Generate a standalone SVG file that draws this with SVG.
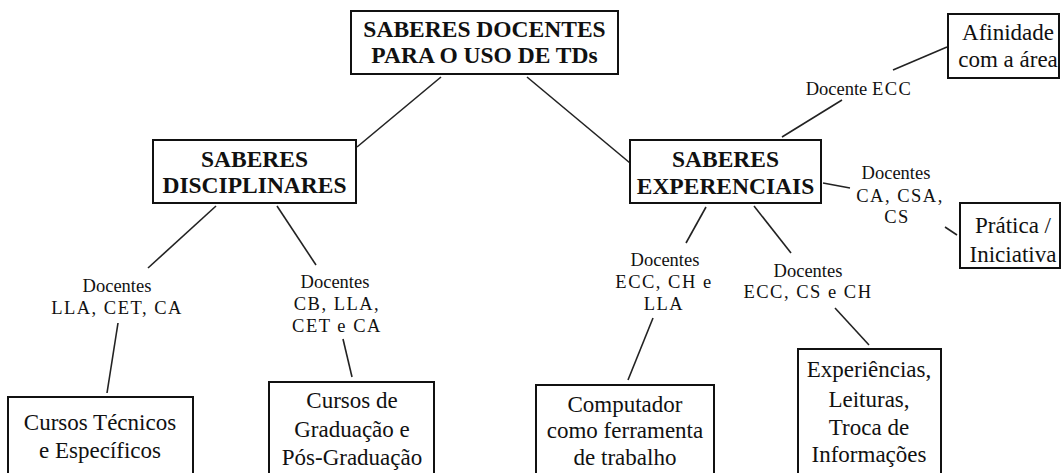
<svg xmlns="http://www.w3.org/2000/svg" width="1061" height="473" viewBox="0 0 1061 473">
<style>
.box{fill:#fff;stroke:#111;stroke-width:2}
.t{font-weight:bold;font-size:23.5px;fill:#111;text-anchor:middle}
.b{font-size:23px;fill:#111;text-anchor:middle}
.l{font-size:18.5px;fill:#111;text-anchor:middle}
.c{letter-spacing:1.5px}
.e{stroke:#222;stroke-width:1.6;fill:none}
</style>
<rect width="1061" height="473" fill="#fff"/>
<g id="connectors">
<line class="e" x1="441" y1="77" x2="357" y2="147"/>
<line class="e" x1="527" y1="77" x2="630" y2="163"/>
<line class="e" x1="216" y1="206" x2="148" y2="268"/>
<line class="e" x1="277" y1="206" x2="316" y2="265"/>
<line class="e" x1="118" y1="323" x2="107" y2="393"/>
<line class="e" x1="343" y1="339" x2="352" y2="377"/>
<line class="e" x1="706" y1="207" x2="686" y2="243"/>
<line class="e" x1="754" y1="206" x2="791" y2="253"/>
<line class="e" x1="653" y1="318" x2="628" y2="380"/>
<line class="e" x1="835" y1="308" x2="869" y2="345"/>
<line class="e" x1="823" y1="183" x2="850" y2="188"/>
<line class="e" x1="945" y1="227" x2="957" y2="235"/>
<line class="e" x1="782" y1="137" x2="842" y2="100"/>
<line class="e" x1="893" y1="70" x2="947" y2="47"/>
</g>
<g id="labels" font-family="Liberation Serif, Times New Roman, serif">
<text class="l" x="859" y="95">Docente <tspan class="c">ECC</tspan></text>
<text class="l" x="117" y="292">Docentes</text>
<text class="l c" x="117" y="314">LLA, CET, CA</text>
<text class="l" x="335" y="288">Docentes</text>
<text class="l c" x="337" y="310">CB, LLA,</text>
<text class="l c" x="337" y="332">CET e CA</text>
<text class="l" x="665" y="266">Docentes</text>
<text class="l c" x="664" y="288">ECC, CH e</text>
<text class="l c" x="664" y="310">LLA</text>
<text class="l" x="808" y="277">Docentes</text>
<text class="l c" x="808" y="298">ECC, CS e CH</text>
<text class="l" x="896" y="179">Docentes</text>
<text class="l c" x="900" y="202">CA, CSA,</text>
<text class="l c" x="897" y="223">CS</text>
</g>
<g id="nodes" font-family="Liberation Serif, Times New Roman, serif">
<g id="n-root">
<rect class="box" x="351" y="11" width="267" height="63"/>
<text class="t" x="484.5" y="37">SABERES DOCENTES</text>
<text class="t" x="484.5" y="63">PARA O USO DE TDs</text>
</g>
<g id="n-disc">
<rect class="box" x="153" y="140" width="203" height="63"/>
<text class="t" x="254.5" y="167">SABERES</text>
<text class="t" x="254.5" y="193">DISCIPLINARES</text>
</g>
<g id="n-exp">
<rect class="box" x="630" y="140" width="191" height="63"/>
<text class="t" x="725.5" y="167">SABERES</text>
<text class="t" x="725.5" y="194">EXPERENCIAIS</text>
</g>
<g id="n-afin">
<rect class="box" x="948" y="14" width="111" height="64"/>
<text class="b" x="1008" y="40">Afinidade</text>
<text class="b" x="1008" y="67">com a área</text>
</g>
<g id="n-pratica">
<rect class="box" x="960" y="203" width="100" height="65"/>
<text class="b" x="1013" y="233">Prática /</text>
<text class="b" x="1013" y="262">Iniciativa</text>
</g>
<g id="n-cursos-tec">
<rect class="box" x="8" y="397" width="185" height="100"/>
<text class="b" x="100" y="430">Cursos Técnicos</text>
<text class="b" x="100" y="458">e Específicos</text>
</g>
<g id="n-cursos-grad">
<rect class="box" x="269" y="382" width="165" height="110"/>
<text class="b" x="352" y="408">Cursos de</text>
<text class="b" x="352" y="437">Graduação e</text>
<text class="b" x="352" y="465">Pós-Graduação</text>
</g>
<g id="n-computador">
<rect class="box" x="536" y="385" width="178" height="110"/>
<text class="b" x="625" y="412">Computador</text>
<text class="b" x="625" y="438">como ferramenta</text>
<text class="b" x="625" y="465">de trabalho</text>
</g>
<g id="n-experiencias">
<rect class="box" x="798" y="349" width="143" height="140"/>
<text class="b" x="869" y="377">Experiências,</text>
<text class="b" x="869" y="407">Leituras,</text>
<text class="b" x="869" y="435">Troca de</text>
<text class="b" x="869" y="462">Informações</text>
</g>
</g>
</svg>
